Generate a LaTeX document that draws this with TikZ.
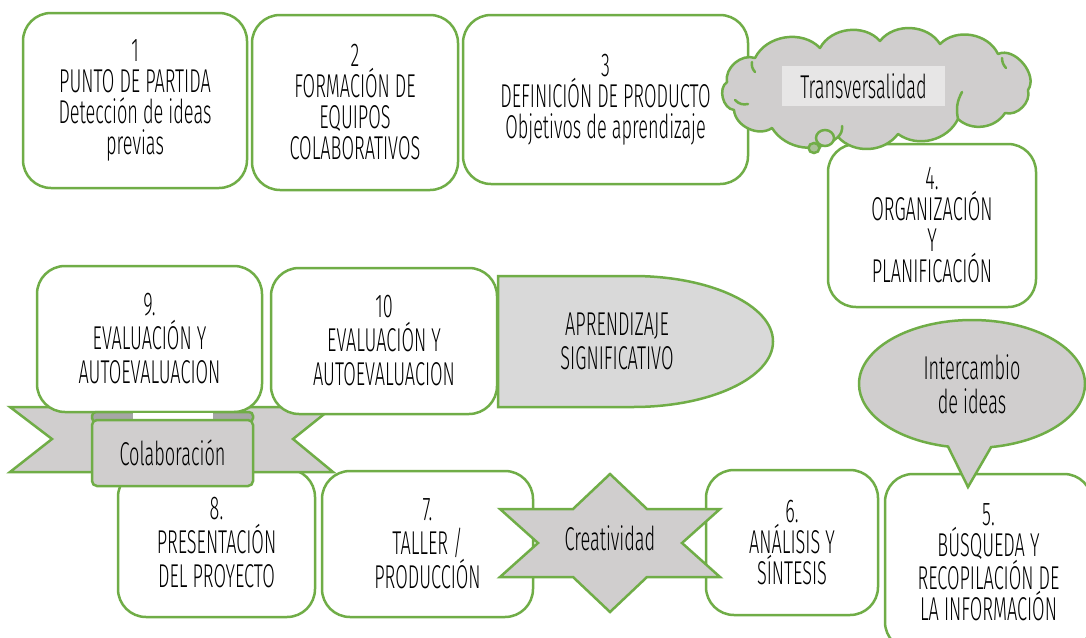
\documentclass[tikz,border=0pt]{standalone}
\usepackage{fontspec}
\setmainfont{Fira Sans}[UprightFont=* Light, FakeStretch=0.55]
\usetikzlibrary{shapes.callouts}
\definecolor{grn}{RGB}{112,173,71}
\definecolor{gry}{RGB}{208,206,206}
\definecolor{lgry}{RGB}{217,217,217}
\definecolor{lbl}{RGB}{231,230,230}
\definecolor{dgry}{RGB}{166,166,166}
\tikzset{
 stepbox/.style={draw=grn, line width=2.5pt, fill=white, rounded corners=28pt, align=center, inner sep=0pt, font=\fontsize{33}{31}\selectfont},
 wide/.style={font=\fontsize{33}{34}\selectfont},
 shp/.style={draw=grn, line width=2.5pt, fill=gry, line join=miter},
 txt/.style={align=center, inner sep=0pt, font=\fontsize{33}{34}\selectfont},
 puff/.style={draw=grn, line width=2.5pt, line cap=round},
}
\begin{document}
\begin{tikzpicture}[x=1pt,y=-1pt]
\useasboundingbox (0,0) rectangle (1086,637);
\fill[white] (0,0) rectangle (1086,637);
% top row
\node[stepbox, minimum width=224pt, minimum height=175pt] (b1) at (135,100.5) {1\\PUNTO DE PARTIDA\\Detección de ideas\\previas};
\node[stepbox, minimum width=206pt, minimum height=175pt] (b2) at (355,102.5) {2\\FORMACIÓN DE\\EQUIPOS\\COLABORATIVOS};
\node[stepbox, minimum width=285pt, minimum height=169pt] (b3) at (605.5,99.5) {3\\DEFINICIÓN DE PRODUCTO\\Objetivos de aprendizaje};
% box 4
\node[stepbox, minimum width=208pt, minimum height=163pt] (b4) at (932,225.5) {4.\\ORGANIZACIÓN\\Y\\PLANIFICACIÓN};
% cloud
\draw[shp, line join=round] (734,110) to[bend left=70] (727,82) to[bend left=60] (755,58) to[bend left=55] (820,48) to[bend left=55] (880,41) to[bend left=55] (940,44) to[bend left=55] (998,54) to[bend left=75] (1028,90) to[bend left=60] (1005,113) to[bend left=50] (958,119) to[bend left=50] (898,134) to[bend left=50] (838,137) to[bend left=50] (772,128) to[bend left=60] (734,110) -- cycle;
\draw[puff] (735,100) to[bend right=30] (748,104);
\draw[puff] (752,62) to[bend right=25] (755,72);
\draw[puff] (838,137) to[bend right=25] (842,126);
\draw[puff] (958,119) to[bend left=20] (962,92);
\draw[puff] (1002,58) to[bend right=20] (1006,68);
\draw[shp] (825,138) ellipse [x radius=9, y radius=8];
\draw[shp, fill=gry!60!grn] (814,148) ellipse [x radius=5.5, y radius=5];
\node[fill=lbl, minimum width=163pt, minimum height=40pt, inner sep=0pt, font=\fontsize{33}{31}\selectfont] (tr) at (863.5,86) {Transversalidad};
% bottom row
\node[stepbox, wide, minimum width=197pt, minimum height=148pt] (b8) at (216.5,543) {8.\\PRESENTACIÓN\\DEL PROYECTO};
\node[stepbox, wide, minimum width=211pt, minimum height=146pt] (b7) at (427.5,544) {7.\\TALLER /\\PRODUCCIÓN};
\node[stepbox, minimum width=172pt, minimum height=145pt] (b6) at (792,542.5) {6.\\ANÁLISIS Y\\SÍNTESIS};
\node[stepbox, minimum width=207pt, minimum height=176pt] (b5) at (988.5,562) {5.\\BÚSQUEDA Y\\RECOPILACIÓN DE\\LA INFORMACIÓN};
% ribbon band
\draw[shp] (10,407) -- (333,407) -- (293,439) -- (333,472) -- (10,472) -- (52,439) -- cycle;
% middle row
\node[stepbox, wide, minimum width=225pt, minimum height=146pt] (b9) at (149.5,339) {9.\\EVALUACIÓN Y\\AUTOEVALUACION};
\node[stepbox, wide, minimum width=226pt, minimum height=146pt] (b10) at (384,341) {10\\EVALUACIÓN Y\\AUTOEVALUACION};
% ribbon centre
\draw[shp, fill=dgry, rounded corners=4pt] (92,412) rectangle (253,422);
\fill[white] (133,413.3) rectangle (213,420.7);
\node[shp, minimum width=161pt, minimum height=66pt, rounded corners=5pt, inner sep=0pt, font=\fontsize{33}{31}\selectfont] (colab) at (172.5,453) {Colaboración};
% aprendizaje
\draw[shp, fill=lgry] (498,276) -- (633,276) .. controls (710.3,276) and (773,305.3) .. (773,341.5) .. controls (773,377.7) and (710.3,407) .. (633,407) -- (498,407) -- cycle;
\node[txt] (ap) at (617,341) {APRENDIZAJE\\SIGNIFICATIVO};
% star
\draw[shp] (610,474) -- (647,509) -- (720,509) -- (682,543) -- (720,577) -- (647,577) -- (610,612) -- (573,577) -- (500,577) -- (538,543) -- (500,509) -- (573,509) -- cycle;
\node[txt] (cre) at (610,538) {Creatividad};
% callout
\node[ellipse callout, shp, txt, minimum width=226pt, minimum height=128pt, callout absolute pointer={(968,487)}, callout pointer arc=22] (ic) at (972,384) {Intercambio\\de ideas};
\end{tikzpicture}
\end{document}
